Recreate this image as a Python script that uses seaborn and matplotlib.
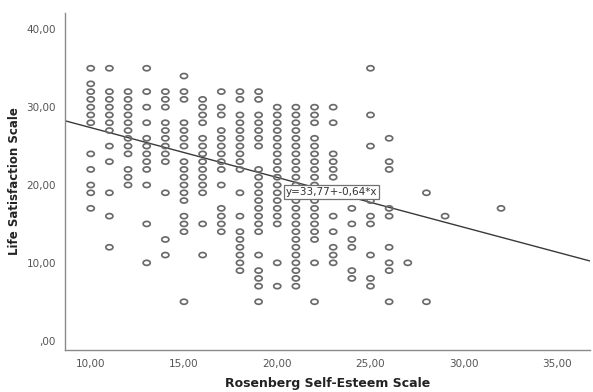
import numpy as np
import pandas as pd
import matplotlib
matplotlib.use("Agg")
import matplotlib.pyplot as plt
from matplotlib.path import Path
import seaborn as sns

# Life satisfaction scores seen at each Rosenberg self-esteem value
ls_10 = [35, 33, 32, 31, 30, 29, 28, 24, 22, 20, 19, 17]
ls_11 = [35, 32, 31, 30, 29, 28, 27, 25, 23, 19, 16, 12]
ls_12 = [32, 31, 30, 29, 28, 27, 26, 25, 24, 22, 21, 20]
ls_13 = [35, 32, 30, 28, 26, 25, 24, 23, 22, 20, 15, 10]
ls_14 = [32, 31, 30, 28, 27, 26, 25, 24, 23, 19, 13, 11]
ls_15 = [34, 32, 31, 28, 27, 26, 25, 23, 22, 21, 20, 19, 18, 16, 15, 14, 5]
ls_16 = [31, 30, 29, 28, 26, 25, 24, 23, 22, 21, 20, 19, 15, 11]
ls_17 = [32, 30, 29, 27, 26, 25, 24, 23, 22, 20, 17, 16, 15, 14]
ls_18 = [32, 31, 29, 28, 27, 26, 25, 24, 23, 22, 19, 16, 14, 13, 12, 11, 10, 9]
ls_19 = [32, 31, 29, 28, 27, 26, 25, 22, 21, 20, 19, 18, 17, 16, 15, 14, 11, 9, 8, 7, 5]
ls_20 = [30, 29, 28, 27, 26, 25, 24, 23, 22, 21, 20, 19, 18, 17, 16, 15, 10, 7]
ls_21 = [30, 29, 28, 27, 26, 25, 24, 23, 22, 21, 20, 19, 18, 17, 16, 15, 14, 13,
         12, 11, 10, 9, 8, 7]
ls_22 = [30, 29, 28, 26, 25, 24, 23, 22, 21, 20, 19, 18, 17, 16, 15, 14, 13, 10, 5]
ls_23 = [30, 28, 24, 23, 22, 21, 16, 14, 12, 11, 10]
ls_24 = [17, 15, 13, 12, 9, 8]
ls_25 = [35, 29, 25, 18, 16, 15, 11, 8, 7]
ls_26 = [26, 23, 22, 17, 16, 12, 10, 9, 5]
ls_27 = [10]
ls_28 = [19, 5]
ls_29 = [16]
ls_32 = [17]

esteem_values = [10, 11, 12, 13, 14, 15, 16, 17, 18, 19, 20, 21, 22, 23, 24, 25,
                 26, 27, 28, 29, 32]
satisfaction_lists = [ls_10, ls_11, ls_12, ls_13, ls_14, ls_15, ls_16, ls_17,
                      ls_18, ls_19, ls_20, ls_21, ls_22, ls_23, ls_24, ls_25,
                      ls_26, ls_27, ls_28, ls_29, ls_32]

fit_intercept = 33.77
fit_slope = -0.64
fit_label = "y=33,77+-0,64*x"

x_ticks = [10, 15, 20, 25, 30, 35]
y_ticks = [0, 10, 20, 30, 40]

df = pd.DataFrame(
    [(x, y) for x, ys in zip(esteem_values, satisfaction_lists) for y in ys],
    columns=["rse", "ls"],
)

sns.set_style("white")
plt.rcParams["font.family"] = ["DejaVu Sans"]

fig = plt.figure(figsize=(5.93, 3.92), dpi=100)
ax = fig.add_axes([65 / 593, 1 - 350 / 392, 525 / 593, 337 / 392])

# slightly wide open ring, like the SPSS output
t = np.linspace(0, 2 * np.pi, 60)
ring = Path(np.column_stack([1.4 * np.cos(t), np.sin(t)]), closed=True)

sns.scatterplot(data=df, x="rse", y="ls", ax=ax, marker=ring, s=26,
                facecolor="none", edgecolor="#6a6a6a", linewidth=1.25,
                zorder=3, legend=False)

ax.axline((0, fit_intercept), slope=fit_slope, color="#3a3a3a", lw=1.0, zorder=2)
ax.text(20.45, 19.1, fit_label, ha="left", va="center", fontsize=7.5,
        color="#333333", zorder=5,
        bbox=dict(boxstyle="square,pad=0.2", fc="white", ec="#707070", lw=0.9))

ax.set_xlim(8.62, 36.77)
ax.set_ylim(-1.2, 42.1)
ax.set_xticks(x_ticks)
ax.set_xticklabels([f"{v},00" for v in x_ticks])
ax.set_yticks(y_ticks)
ax.set_yticklabels([f"{v},00" if v else ",00" for v in y_ticks])

for side in ["top", "right"]:
    ax.spines[side].set_visible(False)
for side in ["left", "bottom"]:
    ax.spines[side].set_color("#8a8a8a")
    ax.spines[side].set_linewidth(1.0)
ax.tick_params(axis="both", direction="out", length=4, width=1.0,
               color="#8a8a8a", labelsize=7.5, labelcolor="#555555", pad=2.5)

ax.set_xlabel("Rosenberg Self-Esteem Scale", fontsize=9, fontweight="bold",
              color="#222222", labelpad=6)
ax.set_ylabel("Life Satisfaction Scale", fontsize=8.5, fontweight="bold",
              color="#222222", labelpad=4)

fig.savefig("out.png", dpi=100)
